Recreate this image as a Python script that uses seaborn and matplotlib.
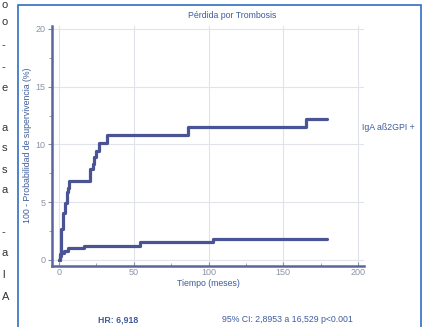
import matplotlib
matplotlib.use("Agg")
import matplotlib.pyplot as plt
import matplotlib.patches as mpatches
from matplotlib.ticker import MultipleLocator
import seaborn as sns
import pandas as pd

# ---- data ----
upper_t = [0, 0.5, 1.5, 2.8, 3.8, 5.0, 5.8, 7.0, 20.7, 22.5, 23.3, 24.5, 27.0, 32.0, 86.0, 165.0, 179.0]
upper_p = [0, 0.5, 2.7, 4.1, 4.9, 5.9, 6.2, 6.8, 7.9, 8.3, 8.9, 9.4, 10.1, 10.8, 11.5, 12.2, 12.2]
lower_t = [0, 0.5, 1.5, 3.0, 6.0, 17.0, 54.0, 103.0, 179.0]
lower_p = [0, 0.3, 0.6, 0.8, 1.0, 1.25, 1.55, 1.85, 1.85]
group_names = ["IgA aß2GPI +", "IgA aß2GPI -"]
x_ticks = [0, 50, 100, 150, 200]
y_ticks = [0, 5, 10, 15, 20]
title = "Pérdida por Trombosis"
xlabel = "Tiempo (meses)"
ylabel = "100 - Probabilidad de supervivencia (%)"
hr_text = "HR: 6,918"
ci_text = "95% CI: 2,8953 a 16,529 p<0.001"
margin_chars = ["o", "o", "-", "-", "e", "a", "s", "s", "a", "-", "a", "l", "A"]
margin_y = [5, 22, 45, 67, 88, 128, 148, 170, 190, 232, 253, 275, 297]

df = pd.concat([
    pd.DataFrame({"t": upper_t, "p": upper_p, "g": group_names[0]}),
    pd.DataFrame({"t": lower_t, "p": lower_p, "g": group_names[1]}),
])

sns.set_theme(style="white")
plt.rcParams["font.family"] = ["Liberation Sans", "DejaVu Sans"]

W, H = 432, 327
fig = plt.figure(figsize=(W / 100, H / 100), dpi=100)

line_col = "#4a5494"
text_col = "#3d5c9c"
tick_col = "#8a93a8"
spine_col = "#5a65a0"

ax = fig.add_axes([52 / W, (H - 265.5) / H, 312 / W, 240 / H])
sns.lineplot(data=df, x="t", y="p", hue="g", palette=[line_col, line_col],
             drawstyle="steps-post", estimator=None, linewidth=2.3,
             legend=False, ax=ax)
ax.set_xlim(-4.7, 204)
ax.set_ylim(-0.48, 20.3)
ax.set_xticks(x_ticks)
ax.set_yticks(y_ticks)
ax.yaxis.set_minor_locator(MultipleLocator(2.5))
ax.xaxis.set_minor_locator(MultipleLocator(25))
ax.grid(True, which="major", color="#e0e3ea", linewidth=0.8)
for s in ["top", "right"]:
    ax.spines[s].set_visible(False)
for s in ["left", "bottom"]:
    ax.spines[s].set_color(spine_col)
    ax.spines[s].set_linewidth(1.8)
ax.tick_params(axis="both", which="major", labelsize=6.5, colors=tick_col,
               length=3, width=0.8, direction="out", pad=1.5)
ax.tick_params(axis="both", which="minor", length=2, width=0.6, color=tick_col)
ax.tick_params(axis="x", which="both", direction="in")
ax.tick_params(axis="y", which="both", left=True)
ax.tick_params(axis="x", which="both", bottom=True)
ax.set_xlabel(xlabel, fontsize=6.3, color=text_col, labelpad=2)
ax.set_ylabel(ylabel, fontsize=6.3, color=text_col, labelpad=3)

fig.text(232 / W, 1 - 15 / H, title, fontsize=6.3, color=text_col, ha="center", va="center")
fig.text(362 / W, 1 - 128 / H, group_names[0], fontsize=6.3, color=text_col, ha="left", va="center")
fig.text(118 / W, 1 - 320 / H, hr_text, fontsize=6.3, color=text_col, ha="center", va="center",
         fontweight="bold")
fig.text(287 / W, 1 - 320 / H, ci_text, fontsize=6.3, color=text_col, ha="center", va="center")

for ch, yy in zip(margin_chars, margin_y):
    fig.text(2 / W, 1 - yy / H, ch, fontsize=8, color="#333333", ha="left", va="center")

frame = mpatches.Rectangle((18 / W, -0.05), (421 - 18) / W, 1.05 - 5 / H,
                           transform=fig.transFigure, fill=False,
                           edgecolor="#2f6fc0", linewidth=1.2)
fig.patches.append(frame)

fig.savefig("out.png", dpi=100)
